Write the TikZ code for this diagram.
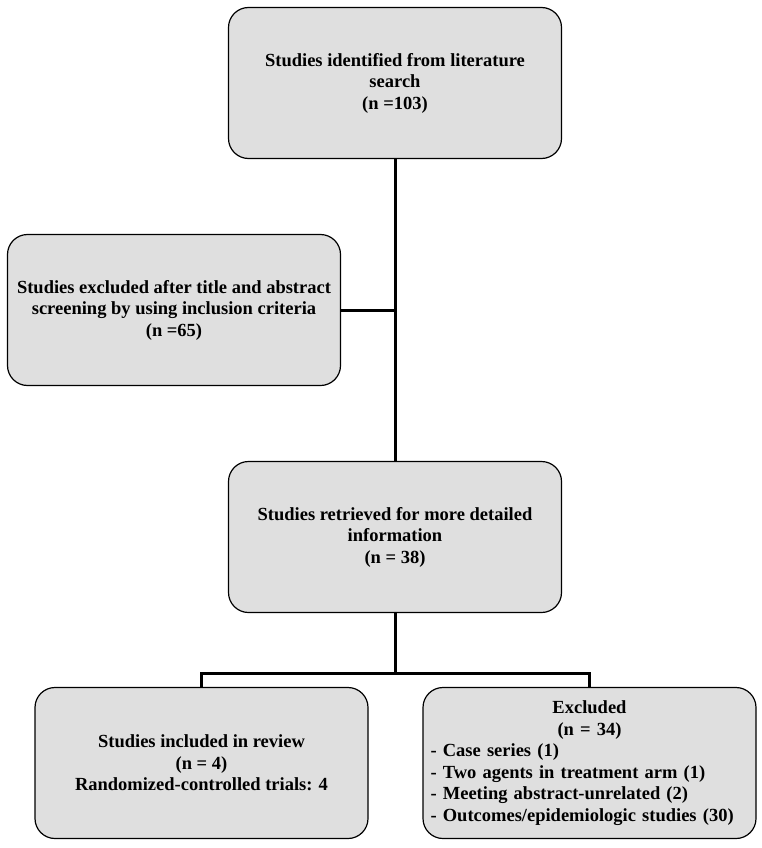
\documentclass[tikz,border=0pt]{standalone}
\usepackage{fontspec}
\setmainfont{Liberation Serif}
\usetikzlibrary{positioning}
\begin{document}
\begin{tikzpicture}[x=1pt,y=-1pt,
			every node/.style = {shape=rectangle, rounded corners=20pt,
				draw, line width=1.2pt, align=center, fill=gray!25,
	font=\fontsize{18.5}{21.5}\selectfont\bfseries,
	minimum width=333pt, minimum height=151pt}]
	\useasboundingbox (0,0) rectangle (762,848);
	\node (found) at (395,83) {Studies identified from literature\\search\\(n =103)};
	\node (drop) at (174,310) {Studies excluded after title and abstract\\screening by using inclusion criteria\\(n =65)};
	\node (kept) at (395,537) {Studies retrieved for more detailed\\information\\(n = 38)};
	\node (incl) at (201.5,763) {Studies included in review\\(n = 4)\\Randomized-controlled trials: 4};
	\node[text width=318pt, align=left] (excl) at (589.5,763)
	{{\centering Excluded\\(n = 34)\par}
	- Case series (1)\\
	- Two agents in treatment arm (1)\\
	- Meeting abstract-unrelated (2)\\
	- Outcomes/epidemiologic studies (30)};
	\coordinate (split) at ([yshift=-60pt]kept.south);
	\draw[line width=3pt] (found) -- (kept);
	\draw[line width=3pt] (drop.east) -- (drop.east -| found.south);
	\draw[line width=3pt] (kept.south) -- (split);
	\draw[line width=3pt] (incl.north) |- (split) -| (excl.north);
\end{tikzpicture}
\end{document}
